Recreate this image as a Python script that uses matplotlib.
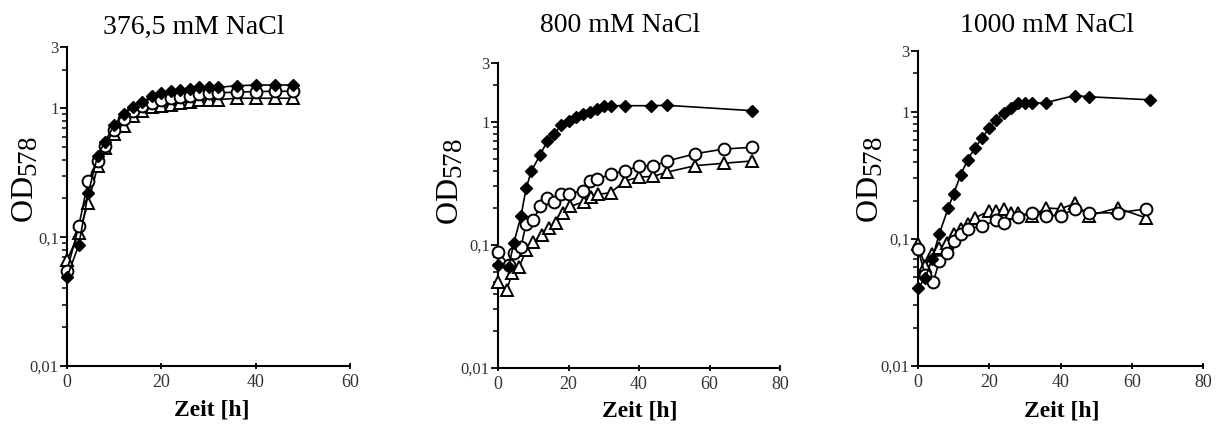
import matplotlib
matplotlib.use("Agg")
import matplotlib.pyplot as plt
import numpy as np
from matplotlib.ticker import FixedLocator, NullFormatter
try:
    import matplotlib._mathtext as _mt
    _mt.SHRINK_FACTOR = 0.85
except Exception:
    pass

plt.rcParams['font.family'] = ['Liberation Serif', 'DejaVu Serif']
plt.rcParams['mathtext.fontset'] = 'custom'
plt.rcParams['mathtext.rm'] = 'Liberation Serif'
plt.rcParams['mathtext.it'] = 'Liberation Serif:italic'

# ---------------- data ----------------
titles = ["376,5 mM NaCl", "800 mM NaCl", "1000 mM NaCl"]
xmax = [60, 80, 80]
xticks = [[0, 20, 40, 60], [0, 20, 40, 60, 80], [0, 20, 40, 60, 80]]
yticks = [0.01, 0.1, 1, 3]
ytick_labels = ["0,01", "0,1", "1", "3"]

# panel 1 (376,5 mM)
t1 = [0, 2.5, 4.5, 6.5, 8, 10, 12, 14, 16, 18, 20, 22, 24, 26, 28, 30, 32, 36, 40, 44, 48]
dia1 = [0.049, 0.087, 0.22, 0.43, 0.55, 0.74, 0.90, 1.02, 1.13, 1.24, 1.31, 1.36, 1.39, 1.41, 1.46, 1.46, 1.46, 1.50, 1.52, 1.52, 1.52]
cir1 = [0.055, 0.122, 0.275, 0.39, 0.51, 0.68, 0.83, 0.95, 1.04, 1.10, 1.16, 1.20, 1.23, 1.26, 1.29, 1.31, 1.32, 1.34, 1.35, 1.36, 1.36]
tri1 = [0.066, 0.107, 0.185, 0.355, 0.49, 0.63, 0.73, 0.87, 0.95, 1.02, 1.04, 1.06, 1.10, 1.13, 1.16, 1.16, 1.17, 1.20, 1.20, 1.20, 1.20]

# panel 2 (800 mM)
td2 = [0, 3, 4.5, 6.5, 8, 9.5, 12, 14, 16, 18, 20, 22, 24, 26, 28, 30, 32, 36, 43.5, 48, 72]
dia2 = [0.069, 0.066, 0.104, 0.17, 0.29, 0.40, 0.54, 0.70, 0.80, 0.94, 1.02, 1.10, 1.16, 1.20, 1.28, 1.33, 1.35, 1.35, 1.35, 1.36, 1.23]
tc2 = [0, 3, 4.5, 6.5, 8, 10, 12, 14, 16, 18, 20, 24, 26, 28, 32, 36, 40, 44, 48, 56, 64, 72]
cir2 = [0.088, 0.069, 0.086, 0.096, 0.149, 0.16, 0.205, 0.24, 0.225, 0.26, 0.26, 0.275, 0.33, 0.34, 0.375, 0.40, 0.435, 0.435, 0.48, 0.55, 0.60, 0.62]
tt2 = [0, 2.5, 4, 6, 8, 10, 12.5, 14.5, 16.5, 18.5, 20.5, 24.5, 26.5, 28.5, 32, 36, 40, 44, 48, 56, 64, 72]
tri2 = [0.05, 0.043, 0.059, 0.066, 0.091, 0.106, 0.12, 0.138, 0.15, 0.18, 0.205, 0.225, 0.246, 0.257, 0.266, 0.33, 0.355, 0.36, 0.39, 0.44, 0.46, 0.48]

# panel 3 (1000 mM)
td3 = [0, 2, 4, 6, 8.5, 10, 12, 14, 16, 18, 20, 22, 24, 26, 28, 30, 32, 36, 44, 48, 65]
dia3 = [0.041, 0.049, 0.07, 0.11, 0.175, 0.226, 0.32, 0.42, 0.52, 0.62, 0.75, 0.865, 0.98, 1.07, 1.16, 1.18, 1.16, 1.18, 1.34, 1.31, 1.24]
tc3 = [0, 2, 4.3, 6, 8, 10, 12, 14, 18, 22, 24, 28, 32, 36, 40, 44, 48, 56, 64]
cir3 = [0.083, 0.052, 0.046, 0.067, 0.078, 0.097, 0.11, 0.12, 0.126, 0.14, 0.134, 0.149, 0.16, 0.152, 0.152, 0.172, 0.16, 0.16, 0.172]
tt3 = [0, 2, 4, 6, 8, 10, 12, 14, 16, 20, 22, 24, 26, 28, 32, 36, 40, 44, 48, 56, 64]
tri3 = [0.091, 0.061, 0.076, 0.085, 0.093, 0.11, 0.12, 0.13, 0.146, 0.166, 0.166, 0.172, 0.16, 0.16, 0.152, 0.175, 0.172, 0.19, 0.152, 0.175, 0.146]

panels = [
    ((t1, dia1), (t1, cir1), (t1, tri1)),
    ((td2, dia2), (tc2, cir2), (tt2, tri2)),
    ((td3, dia3), (tc3, cir3), (tt3, tri3)),
]

# ---------------- layout (pixels) ----------------
W, H = 1224, 424
boxes = [(67, 350, 47, 366), (498, 780, 63, 368), (918, 1203, 51, 366)]
title_pos = [(194, 27), (620, 25), (1047, 26)]
ylab_pos = [(26, 180), (451, 182), (871, 180)]
xlab_pos = [(212, 410), (640, 411), (1062, 411)]

fig = plt.figure(figsize=(W / 100, H / 100), dpi=100)
fig.patch.set_facecolor('white')

minor = [v * 10.0 ** e for e in (-2, -1, 0) for v in range(2, 10)]
minor = [m for m in minor if m < 3]

for i, ((tx_d, yd), (tx_c, yc), (tx_t, yt)) in enumerate(panels):
    l, r, tp, bt = boxes[i]
    ax = fig.add_axes([l / W, 1 - bt / H, (r - l) / W, (bt - tp) / H])
    ax.set_yscale('log')
    ax.set_xlim(0, xmax[i])
    ax.set_ylim(0.01, 3)
    for s in ('top', 'right'):
        ax.spines[s].set_visible(False)
    for s in ('left', 'bottom'):
        ax.spines[s].set_linewidth(1.5)
        ax.spines[s].set_color('black')

    ax.plot(tx_t, yt, '-', color='black', lw=1.2, marker='^', ms=9,
            mfc='white', mec='black', mew=1.4, clip_on=False, zorder=3)
    ax.plot(tx_c, yc, '-', color='black', lw=1.2, marker='o', ms=8.5,
            mfc='white', mec='black', mew=1.4, clip_on=False, zorder=4)
    ax.plot(tx_d, yd, '-', color='black', lw=1.2, marker='D', ms=6.5,
            mfc='black', mec='black', mew=1, clip_on=False, zorder=5)

    ax.yaxis.set_major_locator(FixedLocator(yticks))
    ax.set_yticklabels(ytick_labels)
    ax.yaxis.set_minor_locator(FixedLocator(minor))
    ax.yaxis.set_minor_formatter(NullFormatter())
    ax.set_xticks(xticks[i])
    ax.set_xticklabels([str(v) for v in xticks[i]])
    ax.tick_params(axis='y', which='major', direction='out', length=5, width=1.3,
                   labelsize=12, pad=1, colors='black', labelcolor='#333333')
    ax.tick_params(axis='y', which='minor', direction='out', length=3.5, width=1.1)
    ax.tick_params(axis='x', which='major', direction='inout', length=5, width=1.3,
                   labelsize=13, pad=3, labelcolor='#333333')

    tx, ty = title_pos[i]
    fig.text(tx / W, 1 - ty / H, titles[i], ha='center', va='center', fontsize=20)
    yx, yy = ylab_pos[i]
    fig.text(yx / W, 1 - yy / H, r"OD$_{578}$", ha='center', va='center',
             rotation=90, fontsize=23)
    xx, xy = xlab_pos[i]
    fig.text(xx / W, 1 - xy / H, "Zeit [h]", ha='center', va='center',
             fontsize=17, fontweight='bold')

fig.savefig("out.png", dpi=100, facecolor='white')
